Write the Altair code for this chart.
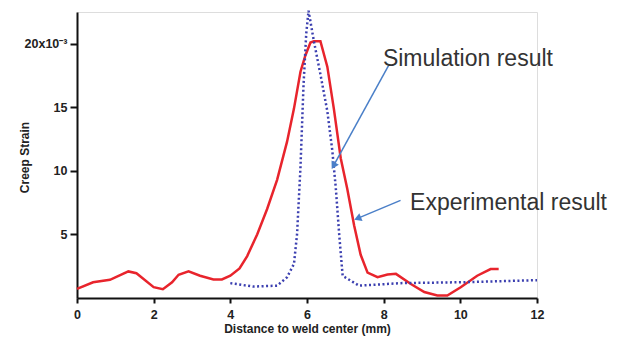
import math
import altair as alt
import pandas as pd

# Experimental result (red solid)
exp_x = [0.0, 0.42, 0.86, 1.34, 1.55, 2.0, 2.24, 2.48, 2.65, 2.91, 3.21, 3.56, 3.78, 4.0,
         4.24, 4.44, 4.7, 4.96, 5.22, 5.48, 5.66, 5.83, 5.96, 6.09, 6.18, 6.35, 6.53, 6.7,
         6.88, 7.05, 7.23, 7.4, 7.58, 7.84, 8.1, 8.32, 8.71, 9.06, 9.4, 9.66, 10.01, 10.44,
         10.79, 11.0]
exp_y = [0.72, 1.24, 1.43, 2.09, 1.95, 0.85, 0.69, 1.24, 1.83, 2.09, 1.75, 1.46, 1.46, 1.75,
         2.32, 3.3, 5.0, 7.0, 9.3, 12.3, 14.9, 17.8, 19.1, 20.1, 20.2, 20.2, 18.2, 14.9,
         11.0, 8.6, 5.7, 3.4, 2.0, 1.64, 1.85, 1.9, 1.1, 0.47, 0.2, 0.2, 0.85, 1.75,
         2.28, 2.28]

# Simulation result (blue dotted)
sim_x = [4.0, 4.6, 5.22, 5.48, 5.66, 5.74, 5.83, 5.91, 5.98, 6.04, 6.18, 6.35, 6.53,
         6.66, 6.75, 6.84, 6.93, 7.36, 8.45, 10.2, 12.0]
sim_y = [1.17, 0.9, 0.97, 1.63, 2.68, 5.0, 10.3, 16.8, 20.8, 22.6, 20.2, 17.6, 14.7,
         11.6, 8.7, 5.0, 1.74, 0.97, 1.17, 1.25, 1.4]

# Annotations
labels = ["Simulation result", "Experimental result"]
label_x = [7.98, 8.69]
label_y = [18.29, 6.96]
arrow_x0 = [8.13, 8.44]
arrow_y0 = [18.3, 7.68]
arrow_x1 = [6.69, 7.32]
arrow_y1 = [10.4, 6.26]

W, H = 460, 286
XD, YD = [0, 12], [0, 22.5]
px_x = W / (XD[1] - XD[0])
px_y = H / (YD[1] - YD[0])

exp_df = pd.DataFrame({"x": exp_x, "y": exp_y})
sim_df = pd.DataFrame({"x": sim_x, "y": sim_y})
ann_df = pd.DataFrame({"label": labels, "x": label_x, "y": label_y})
angles = []
for a, b, c, d in zip(arrow_x0, arrow_y0, arrow_x1, arrow_y1):
    dx = (c - a) * px_x
    dy = -(d - b) * px_y
    ang = math.degrees(math.atan2(dx, -dy)) % 360
    angles.append(ang)
arr_df = pd.DataFrame({"x0": arrow_x0, "y0": arrow_y0, "x1": arrow_x1,
                       "y1": arrow_y1, "ang": angles})

xs = alt.Scale(domain=XD, nice=False, zero=False)
ys = alt.Scale(domain=YD, nice=False, zero=False)

xaxis = alt.Axis(values=[0, 2, 4, 6, 8, 10, 12], format="d", grid=False,
                 title="Distance to weld center (mm)", domainColor="#111",
                 domainWidth=2, tickColor="#111", tickWidth=2, tickSize=5,
                 labelFont="Liberation Sans", labelFontWeight="bold", labelFontSize=12.5,
                 labelColor="#222", labelPadding=5, labelFlush=False,
                 titleFont="Liberation Sans",
                 titleFontWeight="bold", titleFontSize=12, titleColor="#222",
                 titlePadding=3)
yaxis = alt.Axis(values=[5, 10, 15, 20], grid=False, title="Creep Strain",
                 labelExpr="datum.value == 20 ? '20x10⁻³' : datum.value",
                 domainColor="#111", domainWidth=2, tickColor="#111", tickWidth=2,
                 tickSize=7, labelFont="Liberation Sans", labelFontWeight="bold",
                 labelFontSize=12.5, labelColor="#222", labelPadding=3, labelFlush=False,
                 titleFont="Liberation Sans", titleFontWeight="bold", titleFontSize=12,
                 titleColor="#222", titleX=-53, titleY=145, titleAngle=270,
                 titleAlign="center", titleBaseline="middle")

red = alt.Chart(exp_df).mark_line(color="#e8242c", strokeWidth=2.5, clip=False).encode(
    x=alt.X("x:Q", scale=xs, axis=xaxis),
    y=alt.Y("y:Q", scale=ys, axis=yaxis),
)
blue = alt.Chart(sim_df).mark_line(color="#3b3fb0", strokeWidth=2.5,
                                   strokeDash=[2, 2.5], clip=False).encode(
    x=alt.X("x:Q", scale=xs), y=alt.Y("y:Q", scale=ys))

rules = alt.Chart(arr_df).mark_rule(color="#4a7fc8", strokeWidth=1.5).encode(
    x=alt.X("x0:Q", scale=xs), y=alt.Y("y0:Q", scale=ys),
    x2="x1:Q", y2="y1:Q")
heads = alt.Chart(arr_df).mark_point(shape="triangle-up", filled=True, size=70,
                                     color="#4a7fc8", opacity=1).encode(
    x=alt.X("x1:Q", scale=xs), y=alt.Y("y1:Q", scale=ys),
    angle=alt.Angle("ang:Q", scale=None))

texts = alt.Chart(ann_df).mark_text(align="left", baseline="alphabetic",
                                    font="Liberation Sans", fontSize=23,
                                    color="#333333").encode(
    x=alt.X("x:Q", scale=xs), y=alt.Y("y:Q", scale=ys), text="label:N")

chart = alt.layer(red, blue, rules, heads, texts).properties(
    width=W, height=H,
    autosize=alt.AutoSizeParams(type="none"),
    padding={"left": 69, "top": 4, "right": 72, "bottom": 42},
).configure_view(stroke=None).configure(background="white")

chart.save("out.html", embed_options={"renderer": "svg", "actions": False})
